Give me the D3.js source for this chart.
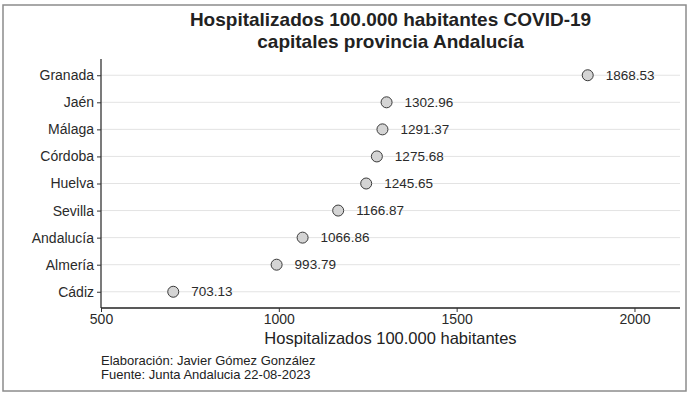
<!DOCTYPE html>
<html lang="es">
    <head>
        <meta charset="utf-8">
        <title>Hospitalizados COVID-19 Andalucía</title>
        <script src="https://cdnjs.cloudflare.com/ajax/libs/d3/7.8.5/d3.min.js" charset="utf-8"></script>
        <style>
            body { margin: 0; background: #fff; }
            svg { display: block; }
            text { font-family: "Liberation Sans", Arial, sans-serif; }
        </style>
    </head>
    <body>
        <div class="container"></div>
        <script type="text/javascript">

            // data
            var cities = ["Granada", "Jaén", "Málaga", "Córdoba", "Huelva", "Sevilla", "Andalucía", "Almería", "Cádiz"];
            var values = [1868.53, 1302.96, 1291.37, 1275.68, 1245.65, 1166.87, 1066.86, 993.79, 703.13];
            var xTicks = [500, 1000, 1500, 2000];
            var titleLines = ["Hospitalizados 100.000 habitantes COVID-19", "capitales provincia Andalucía"];
            var captionLines = ["Elaboración: Javier Gómez González", "Fuente: Junta Andalucia 22-08-2023"];

            var width = 688, height = 394;
            // note: "top" is taken by window.top, so plot edges get their own names
            var plotLeft = 101, plotRight = 680, plotTop = 59, plotBottom = 308;

            var svg = d3.select(".container").append("svg")
                .attr("width", width).attr("height", height);

            // outer frame
            svg.append("rect").attr("x", 3).attr("y", 5).attr("width", 683).attr("height", 386)
                .attr("fill", "none").attr("stroke", "#8c8c8c").attr("stroke-width", 1.5);

            var x = d3.scaleLinear().domain([500, 2128]).range([plotLeft, plotRight]);
            var y = d3.scalePoint().domain(cities).range([plotTop, plotBottom]).padding(0.6);

            // grid lines
            svg.selectAll("line.grid").data(cities).enter().append("line")
                .attr("class", "grid")
                .attr("x1", plotLeft).attr("x2", plotRight)
                .attr("y1", function(d) { return y(d); })
                .attr("y2", function(d) { return y(d); })
                .attr("stroke", "#e3e3e3").attr("stroke-width", 1);

            // y axis
            var yAxis = svg.append("g").attr("transform", "translate(" + plotLeft + ",0)")
                .call(d3.axisLeft(y).tickSize(4).tickPadding(3));
            yAxis.select(".domain").attr("d", "M0," + plotTop + "V" + plotBottom).attr("stroke", "#222").attr("stroke-width", 1.2);
            yAxis.selectAll(".tick line").attr("stroke", "#333");
            yAxis.selectAll("text").attr("font-size", "14px").attr("fill", "#2a2a2a")
                .style("font-family", "'Liberation Sans', Arial, sans-serif");

            // x axis
            var xAxis = svg.append("g").attr("transform", "translate(0," + plotBottom + ")")
                .call(d3.axisBottom(x).tickValues(xTicks).tickSize(4).tickPadding(2).tickFormat(d3.format("d")));
            xAxis.select(".domain").attr("d", "M" + plotLeft + ",0H" + plotRight).attr("stroke", "#222").attr("stroke-width", 1.5);
            xAxis.selectAll(".tick line").attr("stroke", "#333");
            xAxis.selectAll("text").attr("font-size", "14px").attr("fill", "#2a2a2a")
                .style("font-family", "'Liberation Sans', Arial, sans-serif");

            // points
            svg.selectAll("circle.dot").data(values).enter().append("circle")
                .attr("class", "dot")
                .attr("cx", function(d) { return x(d); })
                .attr("cy", function(d, i) { return y(cities[i]); })
                .attr("r", 5.5)
                .attr("fill", "#d4d4d4").attr("stroke", "#3a3a3a").attr("stroke-width", 1);

            svg.selectAll("text.val").data(values).enter().append("text")
                .attr("class", "val")
                .attr("x", function(d) { return x(d) + 18; })
                .attr("y", function(d, i) { return y(cities[i]); })
                .attr("dy", "0.35em")
                .attr("font-size", "13.5px").attr("fill", "#2a2a2a")
                .text(function(d) { return d.toFixed(2); });

            // titles
            var cx = (plotLeft + plotRight) / 2;
            svg.selectAll("text.title").data(titleLines).enter().append("text")
                .attr("class", "title")
                .attr("x", cx).attr("y", function(d, i) { return 26 + i * 22; })
                .attr("text-anchor", "middle").attr("font-size", "19px").attr("font-weight", "bold")
                .attr("fill", "#222").text(function(d) { return d; });

            svg.append("text").attr("x", cx).attr("y", 344)
                .attr("text-anchor", "middle").attr("font-size", "16.5px").attr("fill", "#222")
                .text("Hospitalizados 100.000 habitantes");

            svg.selectAll("text.caption").data(captionLines).enter().append("text")
                .attr("class", "caption")
                .attr("x", plotLeft).attr("y", function(d, i) { return 365 + i * 14; })
                .attr("font-size", "13px").attr("fill", "#222")
                .text(function(d) { return d; });

        </script>
    </body>
</html>
